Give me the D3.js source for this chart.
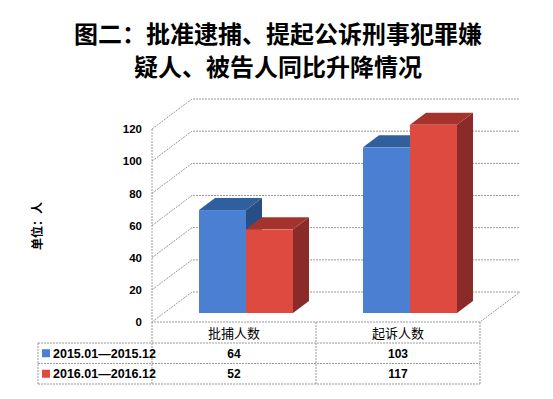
<!DOCTYPE html>
<html>
<head>
<meta charset="utf-8">
<script src="https://cdn.jsdelivr.net/npm/d3@7"></script>
<style>
  body { margin: 0; background: #fff; }
  text { font-family: "Liberation Sans", Arial, sans-serif; }
  .cjk { font-family: "Noto Sans CJK SC", sans-serif; }
</style>
</head>
<body>
<div id="chart"></div>
<script>
// data
const categories = ["批捕人数", "起诉人数"];
const seriesNames = ["2015.01—2015.12", "2016.01—2016.12"];
const values2015 = [64, 103];
const values2016 = [52, 117];
const yTicks = [0, 20, 40, 60, 80, 100, 120];
const titleLines = ["图二：批准逮捕、提起公诉刑事犯罪嫌", "疑人、被告人同比升降情况"];
const yTitle = "单位：人";

const width = 553, height = 399;
const series = [values2015, values2016];
const colors = [
  { front: "#4a7fd2", top: "#2f5f9c", side: "#264f86" },
  { front: "#de4a3f", top: "#a5332d", side: "#8a2b29" }
];

const svg = d3.select("#chart").append("svg")
  .attr("width", width).attr("height", height);

// title
svg.selectAll(".title").data(titleLines).enter().append("text")
  .attr("class", "cjk")
  .attr("x", 278).attr("y", (d, i) => 43 + i * 33)
  .attr("text-anchor", "middle")
  .attr("font-size", 24).attr("font-weight", "bold")
  .text(d => d);

// scales (front plane) + depth offset
const x = d3.scaleBand().domain(categories).range([152, 480]);
const xs = d3.scaleBand().domain(seriesNames).range([0, x.bandwidth()]).paddingOuter(0.745);
const y = d3.scaleLinear().domain([0, 120]).range([322, 129]);
const dx = d3.scaleLinear().domain([0, 1]).range([0, 40]);
const dy = d3.scaleLinear().domain([0, 1]).range([0, -30]);
const lineColor = "#999";

// walls / gridlines
const grid = svg.append("g").attr("fill", "none").attr("stroke", lineColor)
  .attr("stroke-dasharray", "2,1");
grid.selectAll("path").data(yTicks).enter().append("path")
  .attr("d", t => `M${x.range()[0]},${y(t)}L${x.range()[0] + dx(1)},${y(t) + dy(1)}L${x.range()[1] + dx(1)},${y(t) + dy(1)}`);
grid.append("path")
  .attr("d", `M${x.range()[0]},${y(120)}V${y(0)}H${x.range()[1]}L${x.range()[1] + dx(1)},${y(0) + dy(1)}`);

// y axis labels
const yAxis = svg.append("g")
  .attr("transform", `translate(${x.range()[0] - 10},0)`)
  .call(d3.axisLeft(y).tickValues(yTicks).tickSize(0).tickPadding(0));
yAxis.select(".domain").remove();
yAxis.selectAll("text")
  .attr("font-family", "'DejaVu Sans', sans-serif")
  .attr("font-size", 11.5).attr("font-weight", "bold").attr("fill", "#000");

svg.append("text").attr("class", "cjk")
  .attr("transform", "translate(42,226) rotate(-90)")
  .attr("text-anchor", "middle").attr("font-size", 12).attr("font-weight", "bold")
  .text(yTitle);

// bars
const d0 = 0.3, d1 = 0.7;
const bars = svg.append("g");
categories.forEach((c, ci) => {
  series.forEach((vals, si) => {
    const x0 = x(c) + xs(seriesNames[si]) + dx(d0);
    const x1 = x0 + xs.bandwidth();
    const yb = y(0) + dy(d0);
    const yt = y(vals[ci]) + dy(d0);
    const ox = dx(d1) - dx(d0), oy = dy(d1) - dy(d0);
    const g = bars.append("g");
    g.append("path").attr("fill", colors[si].side)
      .attr("d", `M${x1},${yt}L${x1 + ox},${yt + oy}L${x1 + ox},${yb + oy}L${x1},${yb}Z`);
    g.append("path").attr("fill", colors[si].top)
      .attr("d", `M${x0},${yt}L${x0 + ox},${yt + oy}L${x1 + ox},${yt + oy}L${x1},${yt}Z`);
    g.append("rect").attr("fill", colors[si].front)
      .attr("x", x0).attr("y", yt).attr("width", x1 - x0).attr("height", yb - yt);
  });
});

// data table
const rowY = [322, 343, 363.5, 384];
const legendX = 38;
const table = svg.append("g").attr("stroke", lineColor).attr("stroke-dasharray", "2,1").attr("fill", "none");
rowY.slice(1).forEach(ry => {
  table.append("line").attr("x1", legendX).attr("x2", x.range()[1]).attr("y1", ry).attr("y2", ry);
});
[x.range()[0], x(categories[1]), x.range()[1]].forEach(cx => {
  table.append("line").attr("x1", cx).attr("x2", cx).attr("y1", rowY[0]).attr("y2", rowY[3]);
});
table.append("line").attr("x1", legendX).attr("x2", legendX).attr("y1", rowY[1]).attr("y2", rowY[3]);

svg.selectAll(".cat").data(categories).enter().append("text")
  .attr("class", "cjk")
  .attr("x", d => x(d) + x.bandwidth() / 2).attr("y", 338)
  .attr("text-anchor", "middle").attr("font-size", 13)
  .text(d => d);

series.forEach((vals, si) => {
  const cy = (rowY[si + 1] + rowY[si + 2]) / 2;
  svg.append("rect").attr("x", 42).attr("y", cy - 4).attr("width", 8).attr("height", 8)
    .attr("fill", colors[si].front);
  svg.append("text").attr("x", 53).attr("y", cy + 4.5)
    .attr("font-size", 12.5).attr("font-weight", "bold")
    .text(seriesNames[si]);
  svg.selectAll(null).data(vals).enter().append("text")
    .attr("x", (d, i) => x(categories[i]) + x.bandwidth() / 2).attr("y", cy + 4.5)
    .attr("text-anchor", "middle").attr("font-size", 12).attr("font-weight", "bold")
    .text(d => d);
});
</script>
</body>
</html>
